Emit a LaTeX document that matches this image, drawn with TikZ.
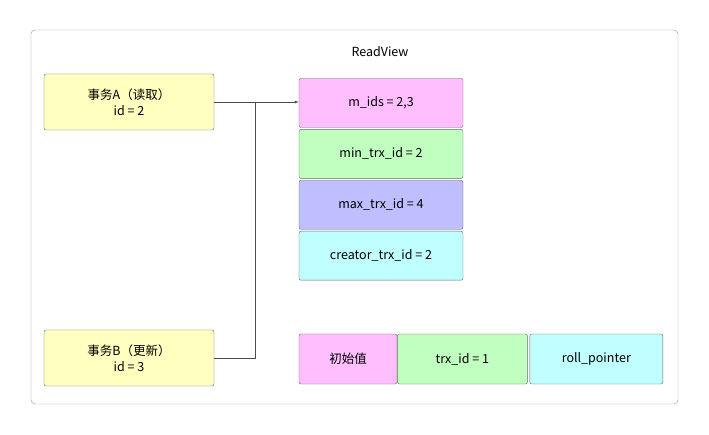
\documentclass[tikz,border=0pt]{standalone}
\usepackage{fontspec}
\setmainfont{Noto Sans CJK SC}
\usetikzlibrary{positioning, calc}
\tikzstyle{box} = [rectangle, rounded corners=2pt, draw=black!60, text centered, inner sep=0pt, font=\fontsize{12.5}{16}\selectfont]
\tikzstyle{trx} = [box, fill=yellow!30!white, draw=black!60, minimum width=170pt, minimum height=56pt, align=center]
\tikzstyle{field} = [box, minimum width=164pt, minimum height=49pt]
\tikzstyle{myarrow} = [->, >=latex, draw=black!70]
\definecolor{pinkv}{HTML}{FFBFFF}
\definecolor{greenv}{HTML}{C0FFC0}
\definecolor{bluev}{HTML}{BFBFFF}
\definecolor{cyanv}{HTML}{BFFFFF}
\definecolor{yellowv}{HTML}{FFFFC0}

\begin{document}
\begin{tikzpicture}[x=1pt, y=-1pt]
\useasboundingbox (0,0) rectangle (709,435);
\draw[rounded corners=4pt, draw=black!40] (31,30) rectangle (678,404);
\node(title)[font=\fontsize{12.5}{16}\selectfont] at (380,52) {ReadView};
\node(trxA)[trx, fill=yellowv] at (129,102) {事务A（读取）\\id = 2};
\node(trxB)[trx, fill=yellowv] at (129,358) {事务B（更新）\\id = 3};
\node(mids)[field, fill=pinkv] at (381,103) {m\_ids = 2,3};
\node(minid)[field, fill=greenv, below=1.5pt of mids] {min\_trx\_id = 2};
\node(maxid)[field, fill=bluev, below=1.5pt of minid] {max\_trx\_id = 4};
\node(creator)[field, fill=cyanv, below=1.5pt of maxid] {creator\_trx\_id = 2};
\node(init)[box, fill=pinkv, minimum width=98pt, minimum height=50pt] at (348,359) {初始值};
\node(trxid)[box, fill=greenv, minimum width=130pt, minimum height=50pt, right=0pt of init] {trx\_id = 1};
\node(rollptr)[box, fill=cyanv, minimum width=133pt, minimum height=50pt, right=2pt of trxid] {roll\_pointer};
\draw [myarrow] (trxA.east) -- (mids.west |- trxA.east);
\draw [draw=black!70] (trxB.east) -- ++(41,0) |- (trxA.east);
\end{tikzpicture}
\end{document}
